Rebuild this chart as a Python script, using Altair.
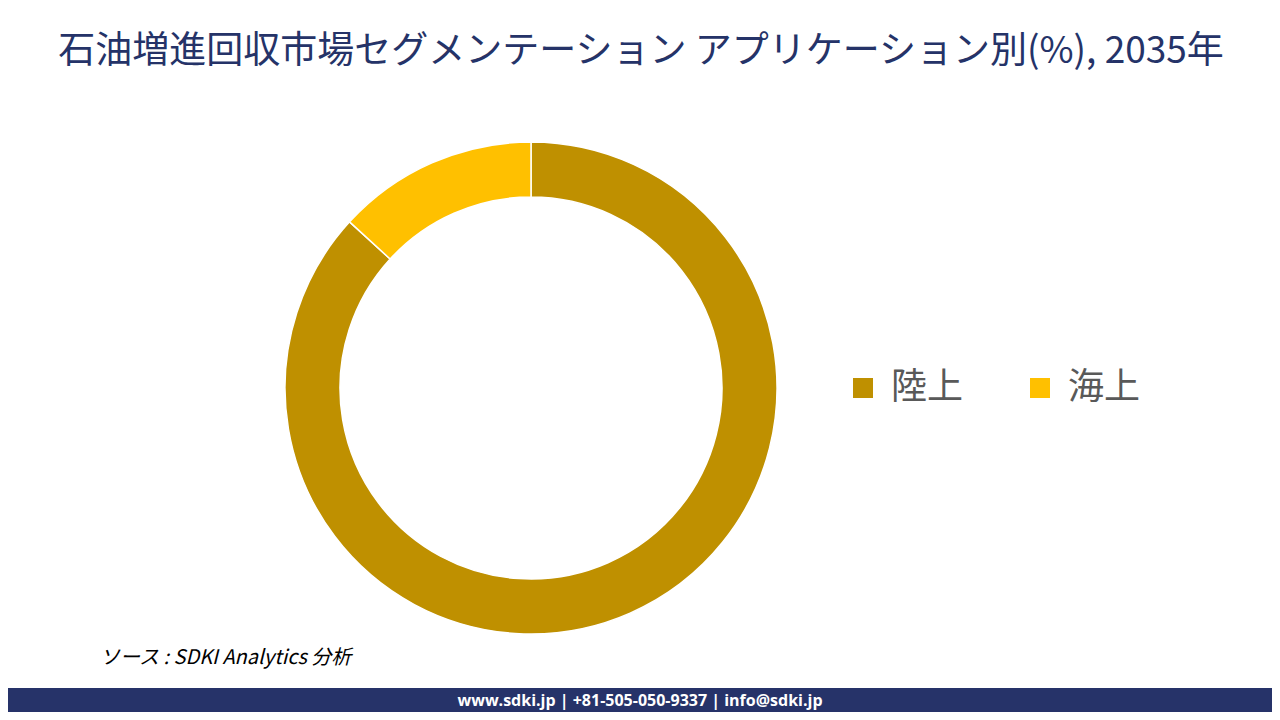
import altair as alt
import pandas as pd

# ---- data ----
categories = ["陸上", "海上"]
shares = [86.8, 13.2]
colors = ["#BF9000", "#FFC000"]

title_text = ["石油増進回収市場セグメンテーション アプリケーション別(%), 2035年"]
source_text = ["ソース : SDKI Analytics  分析"]
footer_text = ["www.sdki.jp | +81-505-050-9337 | info@sdki.jp"]

W, H = 1264, 704

df = pd.DataFrame({"application": categories, "share": shares, "order": list(range(len(categories)))})

donut = alt.Chart(df).mark_arc(
    outerRadius=246, innerRadius=191, stroke="white", strokeWidth=1.5
).encode(
    theta=alt.Theta("share:Q", stack=True),
    color=alt.Color(
        "application:N",
        scale=alt.Scale(domain=categories, range=colors),
        legend=alt.Legend(
            orient="none", legendX=837, legendY=362, direction="horizontal", title=None,
            padding=0,
            symbolType="square", symbolSize=400, symbolStrokeWidth=0,
            labelFontSize=36, labelFont="Noto Sans CJK JP", labelColor="#595959",
            columnPadding=58, labelOffset=10,
        ),
    ),
    order=alt.Order("order:Q"),
    x=alt.value(523),
    y=alt.value(380),
)

title = alt.Chart(pd.DataFrame({"t": title_text})).mark_text(
    font="Noto Sans CJK JP", fontSize=37, color="#253368", align="center", baseline="middle"
).encode(text="t:N", x=alt.value(633), y=alt.value(44))

source = alt.Chart(pd.DataFrame({"t": source_text})).mark_text(
    font="Noto Sans CJK JP", fontSize=20, fontStyle="italic", color="#000000", align="left", baseline="middle"
).encode(text="t:N", x=alt.value(92), y=alt.value(650))

band = alt.Chart(pd.DataFrame({"t": footer_text})).mark_rect(color="#263369").encode(
    x=alt.value(0), x2=alt.value(W), y=alt.value(680), y2=alt.value(H)
)

footer = alt.Chart(pd.DataFrame({"t": footer_text})).mark_text(
    font="Open Sans", fontSize=16, fontWeight="bold", color="white", align="center", baseline="middle"
).encode(text="t:N", x=alt.value(632), y=alt.value(693))

chart = alt.layer(donut, title, source, band, footer).properties(
    width=W, height=H, padding=0, autosize=alt.AutoSizeParams(type="none"), background="white"
).configure_view(stroke=None)

chart.save("out.html", embed_options={"renderer": "svg", "actions": False})
